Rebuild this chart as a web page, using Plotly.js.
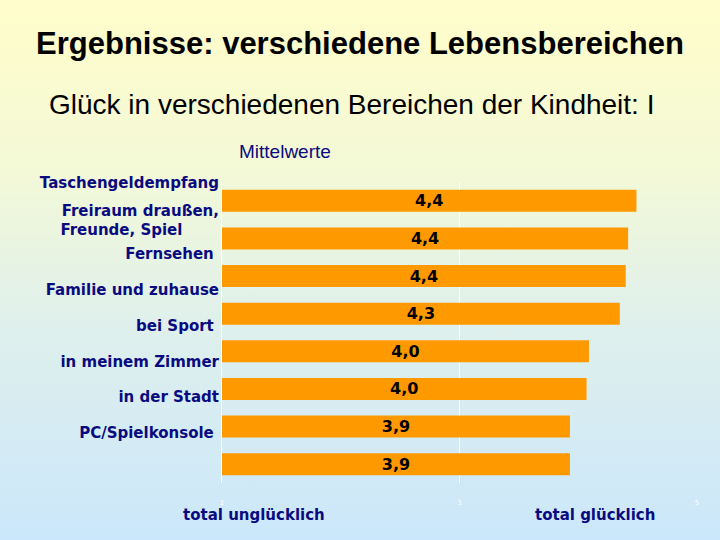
<!DOCTYPE html>
<html>
<head>
<meta charset="utf-8">
<script src="https://cdn.plot.ly/plotly-3.0.1.min.js"></script>
<style>
  html, body { margin: 0; padding: 0; }
  #chart { width: 720px; height: 540px; background: linear-gradient(to bottom, #fffdca 0%, #f4f9d6 30%, #dff0ec 60%, #cbe7fb 100%); }
</style>
</head>
<body>
<div id="chart"></div>
<script>
// Data
const categories = [
  "Taschengeldempfang",
  "Freiraum draußen,",
  "Freunde, Spiel\u00a0\u00a0\u00a0\u00a0\u00a0\u00a0\u00a0",
  "Fernsehen\u00a0",
  "Familie und zuhause",
  "bei Sport\u00a0",
  "in meinem Zimmer",
  "in der Stadt",
  "PC/Spielkonsole\u00a0"
];
const barKeys = ["b1", "b2", "b3", "b4", "b5", "b6", "b7", "b8"];
const values = [4.49, 4.42, 4.40, 4.35, 4.09, 4.07, 3.93, 3.93];
const valueLabels = ["4,4", "4,4", "4,4", "4,3", "4,0", "4,0", "3,9", "3,9"];
const xTicks = [1, 3, 5];
const xTickText = ["1", "3", "5"];

// label slots on the overlay axis (layout only)
const labelSlots = [0, 0.8, 1.33, 2, 3, 4, 5, 6, 7];

const navy = "#0a0a80";

const bars = {
  type: "bar",
  orientation: "h",
  x: values.map(v => v - 1),
  y: barKeys,
  base: 1,
  text: valueLabels,
  textposition: "inside",
  insidetextanchor: "middle",
  constraintext: "none",
  textfont: { family: "DejaVu Sans", size: 16, color: "#000000", weight: "bold" },
  marker: { color: "#ff9900" },
  hoverinfo: "skip",
  xaxis: "x",
  yaxis: "y"
};

const labelTrace = {
  type: "scatter",
  mode: "markers",
  x: labelSlots.map(() => 1),
  y: labelSlots,
  marker: { opacity: 0 },
  hoverinfo: "skip",
  xaxis: "x",
  yaxis: "y2",
  showlegend: false
};

const layout = {
  width: 720,
  height: 540,
  paper_bgcolor: "rgba(0,0,0,0)",
  plot_bgcolor: "rgba(0,0,0,0)",
  margin: { l: 222, r: 23, t: 182, b: 57 },
  showlegend: false,
  bargap: 0.415,
  title: {
    text: "Ergebnisse: verschiedene Lebensbereichen",
    x: 0.5, xref: "container", xanchor: "center",
    y: 1 - 43 / 540, yref: "container", yanchor: "middle",
    font: { family: "Liberation Sans", size: 31, color: "#000000", weight: "bold" }
  },
  xaxis: {
    range: [1, 5],
    tickvals: xTicks,
    ticktext: xTickText,
    showgrid: true,
    gridcolor: "#ffffff",
    gridwidth: 1,
    zeroline: false,
    showline: false,
    ticks: "",
    tickfont: { family: "DejaVu Sans", size: 7, color: "#ffffff" },
    ticklabelstandoff: 14,
    fixedrange: true
  },
  yaxis: {
    type: "category",
    categoryarray: barKeys,
    autorange: "reversed",
    showticklabels: false,
    showgrid: false,
    showline: true,
    linecolor: "#ffffff",
    linewidth: 1,
    ticks: "",
    zeroline: false
  },
  yaxis2: {
    overlaying: "y",
    side: "left",
    anchor: "x",
    range: [8.396, -0.01],
    tickvals: labelSlots,
    ticktext: categories,
    showgrid: false,
    zeroline: false,
    showline: false,
    ticks: "",
    tickfont: { family: "DejaVu Sans", size: 15, color: navy, weight: "bold" },
    ticklabelstandoff: 2
  },
  annotations: [
    {
      text: "Glück in verschiedenen Bereichen der Kindheit: I",
      xref: "paper", yref: "paper", x: (351 - 222) / 475, y: (483 - 104) / 301,
      xanchor: "center", yanchor: "middle", showarrow: false,
      font: { family: "Liberation Sans", size: 28, color: "#000000" }
    },
    {
      text: "Mittelwerte",
      xref: "paper", yref: "paper", x: (285 - 222) / 475, y: (483 - 151) / 301,
      xanchor: "center", yanchor: "middle", showarrow: false,
      font: { family: "Liberation Sans", size: 19, color: navy }
    },
    {
      text: "total unglücklich",
      xref: "paper", yref: "paper", x: (253.5 - 222) / 475, y: (483 - 515) / 301,
      xanchor: "center", yanchor: "middle", showarrow: false,
      font: { family: "DejaVu Sans", size: 15, color: navy, weight: "bold" }
    },
    {
      text: "total glücklich",
      xref: "paper", yref: "paper", x: (595 - 222) / 475, y: (483 - 515) / 301,
      xanchor: "center", yanchor: "middle", showarrow: false,
      font: { family: "DejaVu Sans", size: 15, color: navy, weight: "bold" }
    }
  ]
};

Plotly.newPlot("chart", [bars, labelTrace], layout, { displayModeBar: false, staticPlot: true });
</script>
</body>
</html>
